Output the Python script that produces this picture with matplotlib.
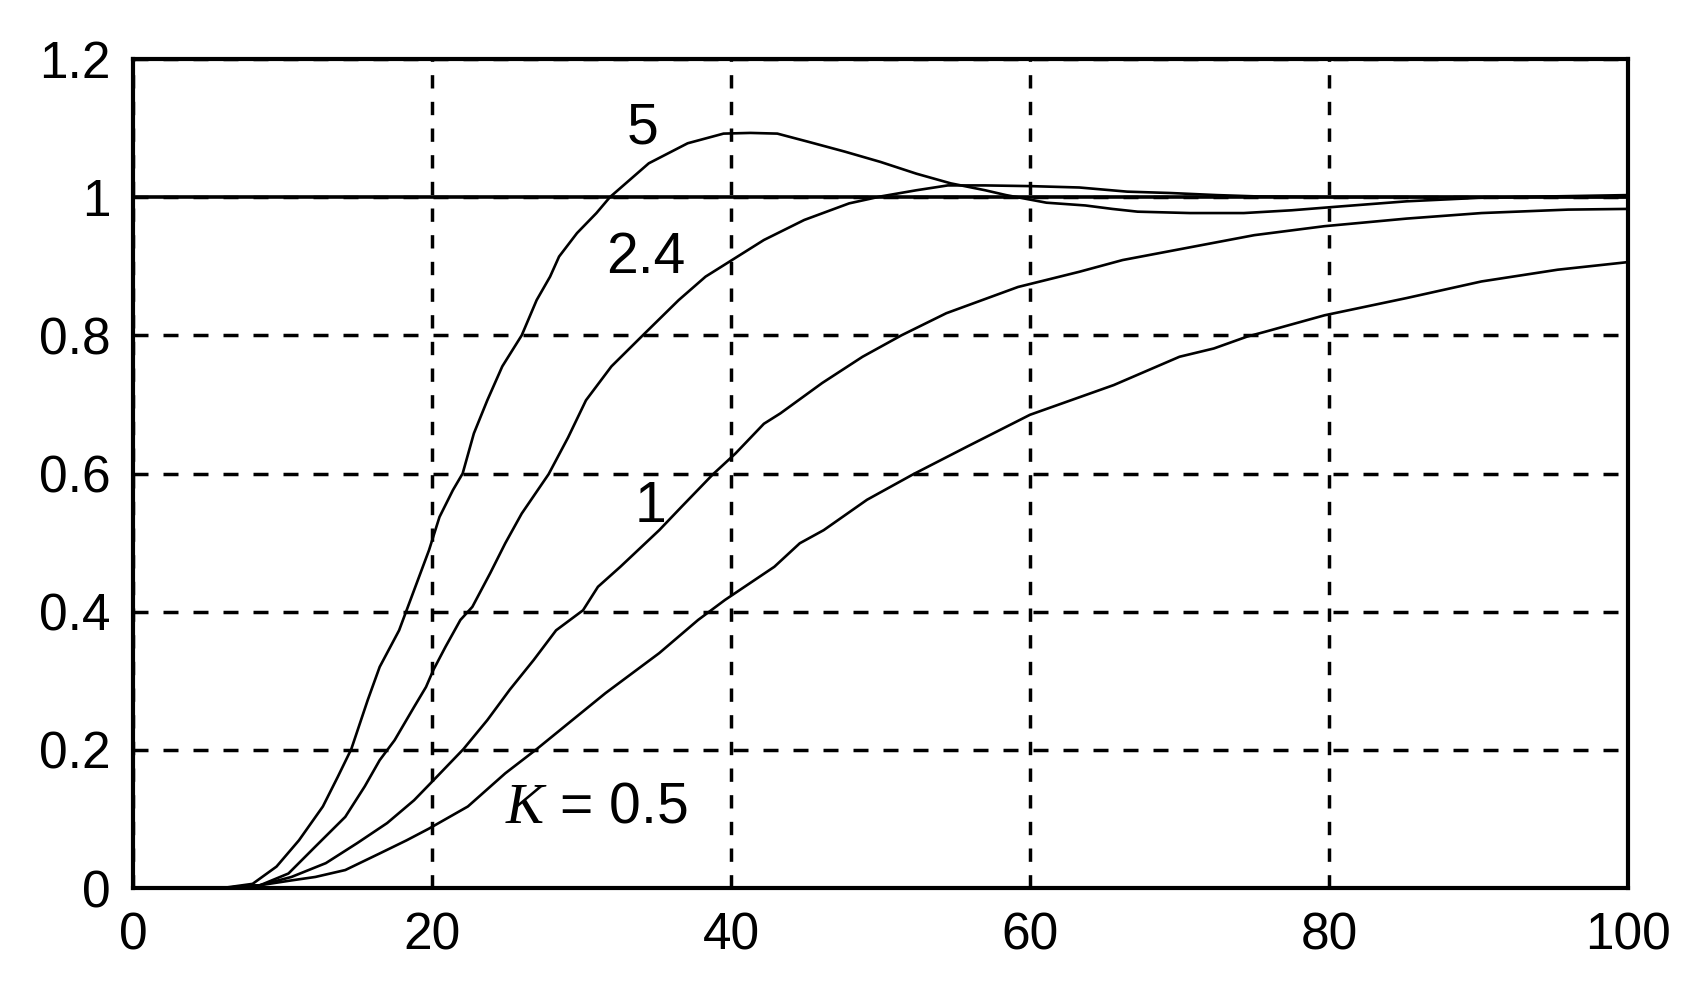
import matplotlib
matplotlib.use("Agg")
import matplotlib.pyplot as plt

plt.rcParams['font.family'] = ['Liberation Sans', 'DejaVu Sans']
plt.rcParams['mathtext.fontset'] = 'custom'
plt.rcParams['mathtext.it'] = 'Liberation Serif:italic'
plt.rcParams['mathtext.rm'] = 'Liberation Sans'
plt.rcParams['lines.scale_dashes'] = False

# ---- data ----
x_k5 = [6, 8, 9.6, 11.1, 12.7, 13.7, 14.6, 15.7, 16.5, 17.8, 18.3, 19.3, 19.8, 20.5, 21.4,
        22.05, 22.8, 23.7, 24.7, 26.0, 27.0, 27.9, 28.5, 29.7, 31.0, 31.9, 34.5, 37.1, 39.5,
        41.3, 43.1, 45.2, 47.6, 50.0, 52.4, 54.7, 57.0, 58.4, 61.1, 63.7, 65.5, 67.2, 70.7,
        74.3, 77.5, 80.4, 82.8, 85.2, 90, 94.6, 100]
y_k5 = [0, 0.006, 0.031, 0.069, 0.118, 0.161, 0.201, 0.272, 0.320, 0.373, 0.402, 0.460, 0.489,
        0.537, 0.576, 0.600, 0.658, 0.706, 0.755, 0.800, 0.851, 0.885, 0.914, 0.948, 0.977,
        1.000, 1.049, 1.078, 1.092, 1.093, 1.092, 1.080, 1.066, 1.051, 1.034, 1.020, 1.010,
        1.003, 0.992, 0.988, 0.983, 0.979, 0.977, 0.977, 0.981, 0.986, 0.990, 0.994, 0.999,
        1.001, 1.003]

x_k24 = [6, 8.5, 10.4, 12.2, 14.2, 15.5, 16.5, 17.5, 18.8, 19.6, 20.1, 20.9, 21.9, 22.7, 23.9,
         24.9, 26.0, 27.8, 29.1, 30.3, 32.0, 34.1, 36.5, 38.3, 39.7, 42.2, 44.9, 47.9, 50.0,
         52.4, 54.5, 57, 60, 63.3, 66.5, 69.4, 72.5, 75.3, 80, 90, 100]
y_k24 = [0, 0.004, 0.021, 0.060, 0.103, 0.147, 0.185, 0.214, 0.262, 0.291, 0.316, 0.349, 0.388,
         0.407, 0.456, 0.499, 0.542, 0.599, 0.652, 0.706, 0.755, 0.800, 0.851, 0.885, 0.904,
         0.938, 0.967, 0.991, 1.001, 1.010, 1.017, 1.017, 1.016, 1.014, 1.008, 1.006, 1.003,
         1.001, 1.000, 1.000, 1.000]

x_k1 = [6, 8.5, 10.6, 12.9, 15.0, 17.0, 18.8, 20.1, 22.1, 23.7, 25.2, 26.8, 28.3, 30.1, 31.1,
        32.6, 35.2, 36.7, 38.8, 40.3, 42.2, 43.3, 46.1, 48.8, 51.4, 54.4, 59.2, 63.3, 66.2,
        75, 79.7, 85.2, 90.2, 96, 100]
y_k1 = [0, 0.004, 0.016, 0.036, 0.065, 0.094, 0.127, 0.156, 0.201, 0.243, 0.287, 0.330, 0.373,
        0.402, 0.436, 0.465, 0.518, 0.552, 0.599, 0.629, 0.672, 0.687, 0.731, 0.769, 0.800,
        0.832, 0.870, 0.892, 0.909, 0.945, 0.958, 0.969, 0.977, 0.982, 0.983]

x_k05 = [6, 8.5, 10.6, 12.2, 14.2, 16.5, 18.3, 19.8, 22.4, 24.9, 27.0, 29.1, 31.6, 35.2, 37.8,
         39.6, 42.9, 44.6, 46.2, 49.1, 52.2, 55.8, 60.0, 65.6, 70.0, 72.3, 74.5, 75.7, 79.7,
         85.2, 90.2, 95.3, 100]
y_k05 = [0, 0.004, 0.011, 0.016, 0.026, 0.050, 0.069, 0.086, 0.118, 0.166, 0.201, 0.238, 0.282,
         0.340, 0.388, 0.417, 0.465, 0.499, 0.518, 0.562, 0.599, 0.639, 0.685, 0.728, 0.769,
         0.781, 0.798, 0.805, 0.829, 0.854, 0.878, 0.895, 0.906]

setpoint = 1.0
x_ticks = [0, 20, 40, 60, 80, 100]
y_ticks = [0, 0.2, 0.4, 0.6, 0.8, 1.0, 1.2]
y_tick_labels = ["0", "0.2", "0.4", "0.6", "0.8", "1", "1.2"]

curve_labels = ["5", "2.4", "1", r"$K$ = 0.5"]
label_x = [34.1, 34.3, 34.6, 31.0]
label_y = [1.10, 0.912, 0.551, 0.116]

# ---- figure ----
fig = plt.figure(figsize=(16.94, 9.94), dpi=100)
ax = fig.add_axes([133/1694, 106/994, (1628-133)/1694, (888-59)/994])

for xs, ys in [(x_k5, y_k5), (x_k24, y_k24), (x_k1, y_k1), (x_k05, y_k05)]:
    ax.plot(xs, ys, color='black', lw=1.9, solid_joinstyle='miter', zorder=3)

ax.axhline(setpoint, color='black', lw=2.6, zorder=3)

ax.set_xlim(0, 100)
ax.set_ylim(0, 1.2)
ax.set_xticks(x_ticks)
ax.set_yticks(y_ticks)
ax.set_yticklabels(y_tick_labels)

ax.xaxis.grid(True, color='black', lw=2.5, linestyle=(0, (9.6, 9.6)))
ax.yaxis.grid(True, color='black', lw=2.5, linestyle=(0, (10.8, 10.8)))
ax.set_axisbelow(True)

ax.tick_params(axis='both', length=0, labelsize=37, colors='black')
ax.tick_params(axis='x', pad=17)
ax.tick_params(axis='y', pad=16)

for s in ax.spines.values():
    s.set_linewidth(3.0)
    s.set_color('black')

for t, xx, yy in zip(curve_labels, label_x, label_y):
    ax.text(xx, yy, t, fontsize=41, ha='center', va='center', color='black', zorder=4)

fig.savefig("out.png", dpi=100, facecolor='white')
